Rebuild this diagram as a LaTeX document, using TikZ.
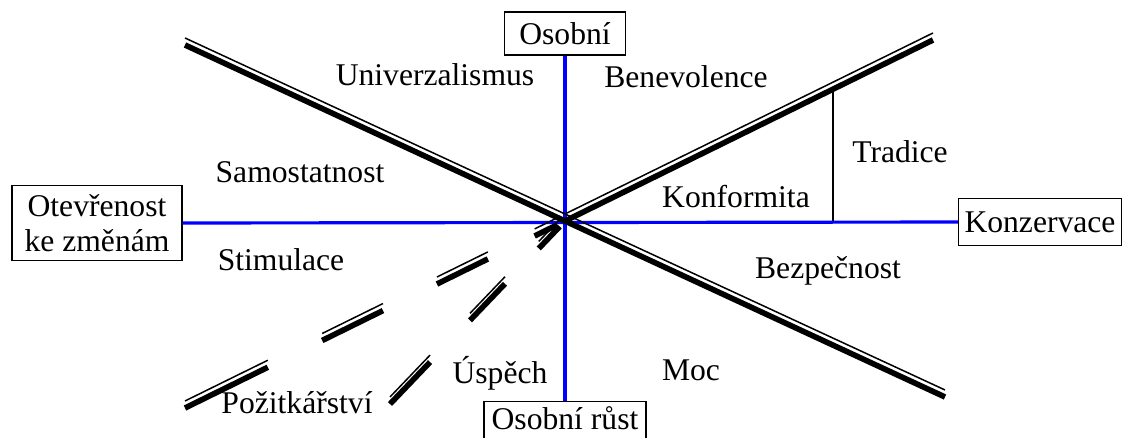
\documentclass[tikz,border=0pt]{standalone}
\usepackage{fontspec}
\setmainfont{Liberation Serif}
\usetikzlibrary{calc}

\begin{document}
\begin{tikzpicture}[x=0.02cm,y=-0.02cm,
  osa/.style={blue,line width=1.8pt},
  tlusta/.style={line width=3.2pt},
  tenka/.style={line width=0.85pt,transform canvas={yshift=4pt}},
  ram/.style={draw,line width=0.8pt,inner sep=0pt,font=\fontsize{18}{20}\selectfont},
  hodnota/.style={anchor=base,font=\fontsize{18}{20}\selectfont}]
  \useasboundingbox (0,0) rectangle (1130,437);
  \clip (0,0) rectangle (1130,437);
  % ramecky na koncich os
  \node[ram,minimum width=2.42cm,minimum height=0.86cm] (osobni) at (565,33.5) {Osobní};
  \node[ram,minimum width=3.24cm,anchor=north,inner ysep=2.6pt,text depth=10pt] (rust) at (565,401) {Osobní růst};
  \node[ram,minimum width=3.4cm,minimum height=1.5cm,align=center] (otevrenost) at (97,223) {Otevřenost\\ke změnám};
  \node[ram,minimum width=3.26cm,minimum height=0.94cm] (konzervace) at (1040,222) {Konzervace};
  % modre osy
  \draw[osa] (osobni.south) -- (rust.north);
  \draw[osa] (otevrenost.east) -- (konzervace.west);
  % hlavni dvojite cary
  \coordinate (S) at (565,221);
  \coordinate (LH) at (185,45);
  \coordinate (PD) at (945,397);
  \coordinate (PH) at (933,40);
  \coordinate (P1) at (185,408);
  \coordinate (P2) at (390,404);
  \draw[tlusta] (LH) -- (PD);
  \draw[tenka] (LH) -- (PD);
  \draw[tlusta] (S) -- (PH);
  \draw[tenka] (S) -- (PH);
  % prerusovane cary vlevo dole
  \foreach \a/\b in {0.02/0.08,0.203/0.337,0.479/0.639,0.782/1}{
    \draw[tlusta] ($(S)!\a!(P1)$) -- ($(S)!\b!(P1)$);
    \draw[tenka] ($(S)!\a!(P1)$) -- ($(S)!\b!(P1)$);
  }
  \foreach \a/\b in {0.03/0.15,0.343/0.543,0.771/1}{
    \draw[tlusta] ($(S)!\a!(P2)$) -- ($(S)!\b!(P2)$);
    \draw[tenka] ($(S)!\a!(P2)$) -- ($(S)!\b!(P2)$);
  }
  % tradice
  \coordinate (T) at ($(S)!0.728!(PH)$);
  \draw[line width=0.8pt] (T) -- (T |- S);
  % hodnoty
  \node[hodnota] (univ) at (435,85) {Univerzalismus};
  \node[hodnota] (bene) at (686,87) {Benevolence};
  \node[hodnota] (trad) at (900,162) {Tradice};
  \node[hodnota] (samo) at (300,182) {Samostatnost};
  \node[hodnota] (konf) at (736,207) {Konformita};
  \node[hodnota] (stim) at (281,270) {Stimulace};
  \node[hodnota] (bezp) at (828,278) {Bezpečnost};
  \node[hodnota] (uspe) at (500,383) {Úspěch};
  \node[hodnota] (moc) at (691,380) {Moc};
  \node[hodnota] (pozi) at (297,413) {Požitkářství};
\end{tikzpicture}
\end{document}
